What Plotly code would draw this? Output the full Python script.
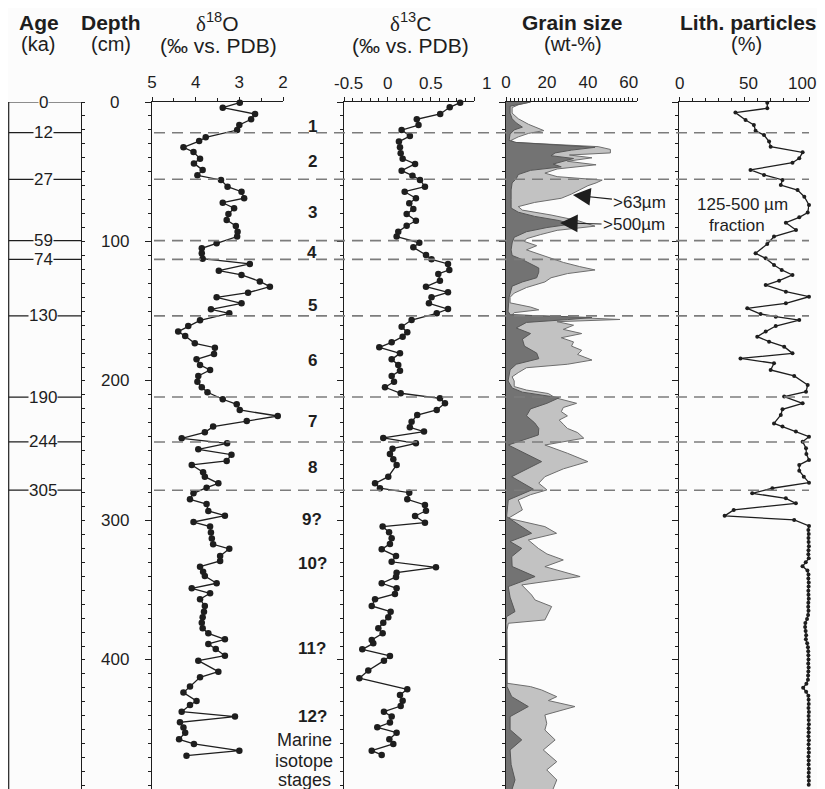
import plotly.graph_objects as go

# ---------------- data ----------------
age_labels = ['0', '12', '27', '59', '74', '130', '190', '244', '305']
age_depths = [0, 22.0, 55.4, 99.4, 112.8, 153.3, 211.5, 243.7, 278.3]

depth_tick_values = [0, 100, 200, 300, 400]

d13c_tick_values = [-0.5, 0, 0.5, 1]
d13c_tick_text = ['-0.5', '0', '0.5', '1']
lith_tick_values = [0, 50, 100]
lith_tick_text = ['0', '50', '100']

stage_labels = ['1', '2', '3', '4', '5', '6', '7', '8', '9?', '10?', '11?', '12?']
stage_depths = [17.7, 42.8, 79.0, 107.8, 146.0, 185.4, 229.2, 261.9, 299.2, 330.7, 391.6, 440.6]
stage_note_lines = ['Marine', 'isotope', 'stages']
stage_note_depths = [457.3, 472.2, 486.0]

d18o_depth = [0.5, 4.1, 8.6, 12.4, 16.5, 20.1, 25.3, 28.0, 32.5, 35.8,
              40.6, 44.0, 48.7, 52.6, 55.9, 60.7, 64.3, 69.0, 72.2, 76.2,
              80.3, 84.6, 88.9, 93.0, 96.5, 101.3, 104.9, 108.5, 112.3, 116.1,
              120.9, 124.0, 128.6, 132.4, 136.7, 140.0, 144.3, 148.6, 151.5, 156.5,
              160.6, 164.6, 167.7, 173.0, 176.1, 180.6, 184.5, 188.5, 192.1, 196.4,
              200.5, 204.5, 208.1, 213.1, 216.7, 220.8, 225.1, 228.7, 232.7, 236.8,
              241.1, 244.7, 249.0, 252.8, 257.3, 260.2, 265.4, 268.6, 273.4, 276.5,
              280.5, 284.8, 288.2, 293.2, 296.6, 301.1, 304.4, 308.7, 313.0, 317.1,
              320.3, 325.5, 329.0, 333.1, 336.7, 339.8, 345.0, 348.6, 352.2, 356.5,
              361.3, 365.4, 369.4, 373.3, 377.3, 380.9, 385.2, 388.5, 392.1, 396.9,
              400.5, 408.4, 412.4, 419.1, 423.4, 429.4, 432.3, 437.1, 440.6, 444.7,
              448.5, 452.1, 456.9, 460.2, 465.0, 468.6]
d18o_value = [2.99, 3.38, 2.64, 2.73, 3.00, 3.05, 3.77, 3.92, 4.28, 4.05,
              3.90, 4.04, 3.84, 3.96, 3.42, 3.27, 2.95, 2.89, 3.38, 3.12,
              3.25, 3.29, 3.08, 3.04, 3.05, 3.52, 3.86, 3.86, 3.84, 2.76,
              3.47, 2.95, 2.53, 2.30, 2.80, 3.52, 2.95, 3.65, 3.23, 3.90,
              4.17, 4.40, 4.24, 4.02, 3.56, 3.58, 3.98, 3.90, 3.67, 3.94,
              3.96, 3.86, 3.73, 3.38, 3.06, 2.99, 2.12, 2.83, 3.60, 3.79,
              4.32, 3.28, 3.94, 3.18, 3.29, 4.09, 3.83, 3.79, 3.48, 3.75,
              4.05, 4.13, 3.75, 3.71, 3.33, 4.05, 3.67, 3.65, 3.63, 3.60,
              3.23, 3.44, 3.44, 3.90, 3.83, 3.79, 3.52, 4.09, 3.67, 3.90,
              3.79, 3.81, 3.84, 3.86, 3.84, 3.71, 3.33, 3.71, 3.54, 3.33,
              3.94, 3.48, 3.90, 4.13, 4.28, 3.98, 4.13, 4.32, 3.10, 4.36,
              4.28, 4.24, 4.38, 4.04, 3.00, 4.21]

d13c_depth = [0.5, 3.8, 8.6, 12.4, 16.5, 20.1, 24.4, 28.4, 32.5, 36.8,
              40.6, 44.4, 49.2, 52.8, 55.9, 60.7, 64.3, 69.0, 72.6, 76.7,
              80.3, 85.1, 88.7, 93.0, 96.5, 100.9, 104.2, 109.7, 112.8, 116.1,
              120.4, 123.3, 128.1, 132.4, 136.4, 140.0, 144.3, 148.4, 151.5, 156.3,
              161.1, 165.0, 168.2, 172.3, 175.9, 180.2, 184.5, 188.5, 192.6, 196.4,
              200.5, 204.5, 208.8, 212.4, 216.0, 220.8, 224.4, 229.2, 233.2, 236.3,
              240.8, 244.7, 248.5, 252.3, 256.1, 260.2, 268.6, 273.4, 276.9, 280.1,
              284.8, 288.9, 293.0, 296.8, 301.6, 304.4, 308.5, 312.8, 316.8, 320.7,
              325.5, 329.6, 333.6, 337.4, 340.5, 345.0, 348.6, 352.7, 356.5, 361.3,
              365.4, 369.4, 373.3, 377.3, 380.9, 385.7, 388.1, 392.4, 397.1, 400.5,
              407.6, 413.1, 421.0, 425.1, 429.2, 433.0, 437.1, 440.6, 444.9, 448.3,
              452.1, 456.9, 460.2, 465.0, 468.1]
d13c_value = [0.84, 0.72, 0.61, 0.34, 0.36, 0.165, 0.26, 0.134, 0.146, 0.154,
              0.177, 0.32, 0.165, 0.29, 0.377, 0.434, 0.20, 0.33, 0.253, 0.30,
              0.223, 0.33, 0.223, 0.126, 0.107, 0.369, 0.30, 0.446, 0.51, 0.70,
              0.715, 0.588, 0.607, 0.446, 0.70, 0.51, 0.48, 0.70, 0.57, 0.28,
              0.165, 0.23, 0.177, 0.05, -0.093, 0.146, 0.05, 0.126, 0.146, 0.05,
              0.077, -0.027, 0.154, 0.607, 0.665, 0.57, 0.345, 0.28, 0.26, 0.423,
              -0.047, 0.33, 0.06, 0.03, 0.069, 0.107, 0.011, -0.142, -0.085, 0.253,
              0.23, 0.434, 0.446, 0.32, 0.434, -0.054, 0.02, 0.05, 0.03, -0.065,
              0.10, 0.05, 0.561, 0.107, 0.10, -0.065, 0.107, 0.088, -0.142, -0.18,
              0.038, 0.011, -0.047, -0.104, -0.054, -0.18, -0.162, -0.289, 0.03, -0.039,
              -0.22, -0.323, 0.23, 0.146, 0.177, 0.154, -0.039, 0.05, 0.03, -0.116,
              0.107, 0.023, 0.069, -0.18, -0.065]

gs63_depth = [0, 2, 4, 8, 12, 16, 20.5, 22.5, 25, 27.5,
              29, 32, 34, 36.5, 38, 40, 42.5, 45, 48, 51,
              53.5, 56, 58, 60, 63, 66, 69, 72, 75, 77.5,
              81, 85, 89, 92, 95, 98, 100, 103, 106, 109,
              112, 115, 118, 120.4, 123, 126, 129, 133, 137, 140,
              144, 147, 149, 151, 152.5, 154, 155.9, 157.5, 160, 163,
              166, 169, 172, 175, 178, 181, 185, 188, 190.5, 194,
              197, 200, 204, 206.5, 209, 212, 214, 216, 219, 222,
              225, 228, 231, 234, 237, 241, 245.9, 251.8, 257.8, 263,
              268.6, 273.3, 278.1, 281.5, 285.3, 292.4, 298.4, 304.4, 309.2, 314,
              320, 324, 328.3, 333.1, 340.2, 346.2, 353.4, 357, 361.7, 366,
              371.3, 373.7, 378.5, 390, 400, 410, 416.7, 419.1, 421.5, 426.3,
              429.1, 433.4, 439.4, 445.4, 450.2, 457.3, 464.5, 472.9, 478.8, 486,
              492.5]
gs63_value = [12, 6, 3, 3, 6, 11, 18.5, 11, 6, 2.5,
              4, 45, 51, 51, 31, 42, 30, 44, 25, 19,
              25, 47, 44, 40, 36, 32, 27, 14, 6, 8,
              22, 35, 43.5, 25, 17, 10, 9, 15, 10, 16,
              22, 28, 36, 43.5, 30, 22, 19, 10, 4, 2,
              2, 12, 16, 4, 3, 30, 55.7, 25, 33, 28,
              37, 27, 33, 32, 37, 35, 42, 30, 10, 6,
              3, 4, 4, 10, 20.7, 24, 30, 34.5, 28, 27,
              30, 26, 28, 30, 35, 38, 19, 30, 40, 28,
              19, 16, 20, 12, 6, 8, 1.1, 19, 24.7, 10.9,
              15.8, 20, 28, 19, 36.2, 7.7, 12.5, 14.2, 22.3, 21,
              19, 1.1, 0.5, 0.6, 0.5, 0.6, 0.5, 12, 17.4, 24.8,
              20.7, 33.7, 19, 19.9, 19, 24, 18.2, 24.8, 19.9, 24.8,
              23]

gs500_depth = [0, 1.5, 3, 8, 12, 15, 18, 20, 23, 27.5,
               29, 32.5, 34.5, 36.5, 38.5, 40.5, 42.5, 44.5, 46.5, 49,
               52, 55, 58, 63, 70, 76, 79, 82, 85, 87.5,
               90, 93, 97, 101, 106, 110, 113, 116, 119, 122,
               126, 129, 132, 140, 150, 152.5, 154.5, 156, 158, 162,
               166, 170, 175, 180, 184, 188, 192, 200, 205, 208,
               212, 216, 220, 225, 230, 234, 238.7, 245.9, 257.8, 268.6,
               277.6, 285.3, 297.2, 309.2, 315.1, 320, 325.9, 333, 340.2, 347.4,
               355, 365.3, 368.9, 373.7, 419.1, 426.3, 433.4, 440.6, 450, 457.3,
               464.5, 475, 486, 492.5]
gs500_value = [12, 6, 2, 2, 3, 5, 8, 4, 2, 1.5,
               5, 43.5, 32, 24, 22, 33, 28, 23, 27, 12,
               6, 5, 3, 2.5, 2.5, 2.5, 6, 14, 26, 32,
               20, 10, 4, 3, 2.5, 3, 8, 12, 16, 16,
               15, 8, 3, 1.5, 1, 2, 42, 30, 10, 5,
               12, 8, 9, 15, 16, 5, 2, 1, 3, 8,
               26, 20, 12, 10, 14, 16, 15.8, 1.1, 17.4, 2.8,
               13.4, 1.1, 0.3, 12.5, 2, 7.7, 2.8, 3, 14.2, 1.1,
               2, 4.4, 0.3, 0, 0.5, 2.8, 10.9, 2, 2, 7.7,
               2, 2.5, 4.4, 3]

lith_depth = [0.5, 4.5, 7.6, 12.9, 16.5, 20.6, 23.7, 28.4, 32.0, 36.1,
              40.4, 43.5, 48.7, 52.3, 55.9, 59.5, 63.1, 67.9, 73.8, 79.3,
              82.7, 86.5, 91.8, 96.5, 101.8, 108.5, 112.1, 116.8, 120.4, 124.0,
              128.1, 131.2, 136.0, 139.6, 144.3, 147.9, 152.0, 153.9, 156.3, 160.6,
              164.6, 168.2, 171.8, 175.4, 180.2, 183.8, 187.3, 192.1, 196.4, 202.9,
              207.7, 211.2, 216.0, 220.3, 224.4, 230.4, 232.7, 236.3, 239.9, 243.5,
              248.2, 252.4, 256.6, 260.2, 264.3, 268.6, 272.9, 276.9, 280.5, 284.1,
              287.7, 292.4, 296.7, 299.6, 303.9, 306.8, 309.7, 312.6, 315.5, 318.4,
              321.3, 324.2, 327.1, 330.0, 332.9, 335.8, 338.7, 341.6, 344.5, 347.4,
              350.3, 353.2, 356.1, 359.0, 361.9, 364.8, 367.7, 370.6, 373.5, 376.4,
              379.3, 382.2, 385.1, 388.0, 390.9, 393.8, 396.7, 399.6, 402.5, 405.4,
              408.3, 411.2, 414.1, 417.0, 419.9, 422.8, 425.7, 428.6, 431.5, 434.4,
              437.3, 440.2, 443.1, 446.0, 448.9, 451.8, 454.7, 457.6, 460.5, 463.4,
              466.3, 469.2, 472.1, 475.0, 477.9, 480.8, 483.7, 486.6, 489.5]
lith_value = [67.9, 67.9, 43.4, 51.2, 57.6, 58.9, 65.4, 69.3, 70.5, 95.1,
              92.5, 87.3, 55.0, 65.4, 79.6, 78.3, 91.2, 96.4, 100.0, 99.0,
              92.5, 82.2, 90.0, 73.1, 67.9, 58.9, 66.7, 73.1, 79.0, 87.3,
              77.0, 66.7, 82.2, 100.0, 82.2, 52.5, 62.8, 74.4, 92.5, 74.4,
              66.7, 60.2, 69.3, 80.9, 87.3, 47.3, 73.1, 70.5, 88.6, 99.0,
              97.7, 80.9, 95.1, 79.6, 78.3, 73.1, 79.6, 89.9, 100.0, 95.1,
              97.7, 98.0, 100.0, 92.5, 92.5, 96.0, 100.0, 71.8, 56.3, 82.2,
              89.9, 42.1, 35.1, 88.6, 100.0, 99.5, 99.8, 99.6, 99.7, 99.9,
              99.6, 99.5, 99.8, 97.5, 95.0, 98.8, 99.6, 99.5, 99.8, 99.7,
              99.5, 99.6, 99.8, 99.5, 99.4, 99.6, 99.3, 98.5, 97.2, 97.0,
              97.4, 97.8, 97.6, 98.6, 99.2, 99.4, 99.5, 99.6, 99.4, 99.7,
              99.5, 99.3, 99.2, 98.0, 95.5, 97.8, 99.5, 99.7, 99.8, 99.6,
              99.9, 99.7, 99.8, 99.9, 99.7, 99.8, 99.6, 99.9, 99.7, 99.8,
              99.9, 99.6, 99.8, 99.7, 99.9, 99.8, 99.7, 99.9, 99.8]

# ---------------- layout helpers ----------------
# the page body has an 8 px margin, so the figure is 8 px smaller and all
# reference pixel positions are shifted by that offset
OFF = 8
W, H = 825 - OFF, 789 - OFF
TOP_PX = 102
DMAX = 492.5
BG = '#fcfcfc'
INK = '#1e1e1e'
FONT = 'Liberation Sans, Arial, sans-serif'


def px(x):
    return (x - OFF) / W


def py(y):
    return 1 - (y - OFF) / H


YTOP = py(TOP_PX)

P18 = (152, 283)
P13 = (344, 474)
PGS = (506, 637)
PLI = (679, 809)


def xaxis(dom, rng, tick0, dtick, mdtick, anchor, labels=True):
    return dict(domain=[px(dom[0]), px(dom[1])], range=rng, side='top', anchor=anchor,
                showline=True, linecolor=INK, linewidth=1.2,
                ticks='outside', ticklen=4, tickwidth=1, tickcolor=INK,
                tick0=tick0, dtick=dtick,
                minor=dict(tick0=tick0, dtick=mdtick, ticks='outside', ticklen=3,
                           tickwidth=1, tickcolor=INK, showgrid=False),
                showticklabels=labels,
                tickfont=dict(size=17, color=INK, family=FONT),
                ticklabelstandoff=2, automargin=False,
                showgrid=False, zeroline=False, fixedrange=True)


def yaxis(anchor, **kw):
    d = dict(domain=[0, YTOP], range=[DMAX, 0], anchor=anchor,
             showline=True, linecolor=INK, linewidth=1.2,
             ticks='outside', ticklen=6, tickwidth=1, tickcolor=INK,
             tick0=0, dtick=100,
             minor=dict(tick0=0, dtick=10, ticks='outside', ticklen=3, tickwidth=1,
                        tickcolor=INK, showgrid=False),
             showticklabels=False, showgrid=False, zeroline=False, fixedrange=True,
             automargin=False)
    d.update(kw)
    return d


def text_ann(text, x, y, xref, yref, size, **kw):
    d = dict(text=text, x=x, y=y, xref=xref, yref=yref, showarrow=False,
             xanchor='center', yanchor='middle',
             font=dict(size=size, color=INK, family=FONT))
    d.update(kw)
    return d


fig = go.Figure()

line_style = dict(color=INK, width=1.3)
fig.add_trace(go.Scatter(x=d18o_value, y=d18o_depth, xaxis='x', yaxis='y', mode='lines+markers',
                         line=line_style, marker=dict(size=6.5, color=INK), cliponaxis=False,
                         showlegend=False))
fig.add_trace(go.Scatter(x=d13c_value, y=d13c_depth, xaxis='x2', yaxis='y2', mode='lines+markers',
                         line=line_style, marker=dict(size=6.5, color=INK), cliponaxis=False,
                         showlegend=False))
fig.add_trace(go.Scatter(x=gs63_value, y=gs63_depth, xaxis='x3', yaxis='y3', mode='lines',
                         fill='tozerox', fillcolor='#c2c2c2',
                         line=dict(color='#6e6e6e', width=1), showlegend=False))
fig.add_trace(go.Scatter(x=gs500_value, y=gs500_depth, xaxis='x3', yaxis='y3', mode='lines',
                         fill='tozerox', fillcolor='#737373',
                         line=dict(color='#575757', width=1), showlegend=False))
fig.add_trace(go.Scatter(x=lith_value, y=lith_depth, xaxis='x4', yaxis='y4', mode='lines+markers',
                         line=dict(color=INK, width=1.3), marker=dict(size=4, color=INK),
                         cliponaxis=False, showlegend=False))
# carrier trace for the depth axis
fig.add_trace(go.Scatter(x=[None], y=[None], xaxis='x', yaxis='y5', showlegend=False,
                         hoverinfo='skip'))

shapes = []
# age axis
shapes.append(dict(type='line', xref='paper', yref='y', x0=px(8.7), x1=px(8.7), y0=0, y1=DMAX,
                   line=dict(color=INK, width=1.2)))
for d in age_depths:
    shapes.append(dict(type='line', xref='paper', yref='y', x0=px(8.7), x1=px(81), y0=d, y1=d,
                       line=dict(color=INK, width=1.2)))
for d in age_depths[1:]:
    shapes.append(dict(type='line', xref='paper', yref='y', x0=px(P18[0] + 2), x1=px(PLI[1]),
                       y0=d, y1=d, layer='above',
                       line=dict(color='#7c7c7c', width=1.6, dash='11px,7px')))

ann = []
for lab, d in zip(age_labels, age_depths):
    ann.append(text_ann(lab, px(43), d, 'paper', 'y', 17, bgcolor=BG, borderpad=0))
for v in depth_tick_values:
    ann.append(text_ann(str(v), px(115), v, 'paper', 'y', 17))
for lab, d in zip(stage_labels, stage_depths):
    ann.append(text_ann('<b>%s</b>' % lab, px(312), d, 'paper', 'y', 17))
for lab, d in zip(stage_note_lines, stage_note_depths):
    ann.append(text_ann(lab, px(304), d, 'paper', 'y', 18))

# tick labels of the δ13C and lithic axes (placed as in the original, slightly off the ticks)
d13c_shift = [4, 0, 0, 12]
for v, t, s in zip(d13c_tick_values, d13c_tick_text, d13c_shift):
    ann.append(text_ann(t, v, py(83), 'x2', 'paper', 17, xshift=s))
lith_shift = [0, 4, -7]
for v, t, s in zip(lith_tick_values, lith_tick_text, lith_shift):
    ann.append(text_ann(t, v, py(83), 'x4', 'paper', 17, xshift=s))

delta = "<span style='font-family:Liberation Serif'>δ</span>"
titles = [('<b>Age</b>', 39, 23, 21), ('(ka)', 38, 44, 20),
          ('<b>Depth</b>', 111, 23, 21), ('(cm)', 111, 44, 20),
          (delta + '<sup>18</sup>O', 217, 23, 21), ('(‰ vs. PDB)', 218, 45, 21),
          (delta + '<sup>13</sup>C', 410, 23, 21), ('(‰ vs. PDB)', 410, 45, 21),
          ('<b>Grain size</b>', 572, 23, 21), ('(wt-%)', 573, 44, 20),
          ('<b>Lith. particles</b>', 748, 23, 21), ('(%)', 746, 44, 20)]
for t, x, y, s in titles:
    ann.append(text_ann(t, px(x), py(y), 'paper', 'paper', s))

# arrows in grain-size panel
ann.append(dict(text='>63µm', x=32.7, y=66.7, xref='x3', yref='y3', ax=67, ay=7,
                showarrow=True, arrowhead=2, arrowsize=3.2, arrowwidth=1.1, arrowcolor=INK,
                font=dict(size=17, color=INK, family=FONT)))
ann.append(dict(text='>500µm', x=26.4, y=86.7, xref='x3', yref='y3', ax=74, ay=2,
                showarrow=True, arrowhead=2, arrowsize=3.2, arrowwidth=1.1, arrowcolor=INK,
                font=dict(size=17, color=INK, family=FONT)))
ann.append(text_ann('125-500 µm', px(742), 73.8, 'paper', 'y', 17))
ann.append(text_ann('fraction', px(737), 88.2, 'paper', 'y', 17))

fig.update_layout(
    width=W, height=H, autosize=False,
    margin=dict(l=0, r=0, t=0, b=0, pad=0, autoexpand=False),
    paper_bgcolor=BG, plot_bgcolor='rgba(0,0,0,0)',
    font=dict(family=FONT, color=INK),
    xaxis=xaxis(P18, [5, 2], 2, 1, 0.5, 'y'),
    xaxis2=xaxis(P13, [-0.5, 1], -0.5, 0.5, 0.1, 'y2', labels=False),
    xaxis3=xaxis(PGS, [0, 64], 0, 20, 2, 'y3'),
    xaxis4=xaxis(PLI, [0, 100], 0, 50, 10, 'y4', labels=False),
    yaxis=yaxis('x'),
    yaxis2=yaxis('x2', matches='y'),
    yaxis3=yaxis('x3', matches='y'),
    yaxis4=yaxis('x4', matches='y'),
    yaxis5=dict(domain=[0, YTOP], range=[DMAX, 0], anchor='free', overlaying='y',
                position=px(81), side='right', showline=True, linecolor=INK, linewidth=1.2,
                ticks='outside', ticklen=3, tickwidth=1, tickcolor=INK, tick0=0, dtick=10,
                showticklabels=False, showgrid=False, zeroline=False, fixedrange=True,
                automargin=False),
    shapes=shapes,
    annotations=ann,
    showlegend=False,
)

fig.write_html('out.html')
